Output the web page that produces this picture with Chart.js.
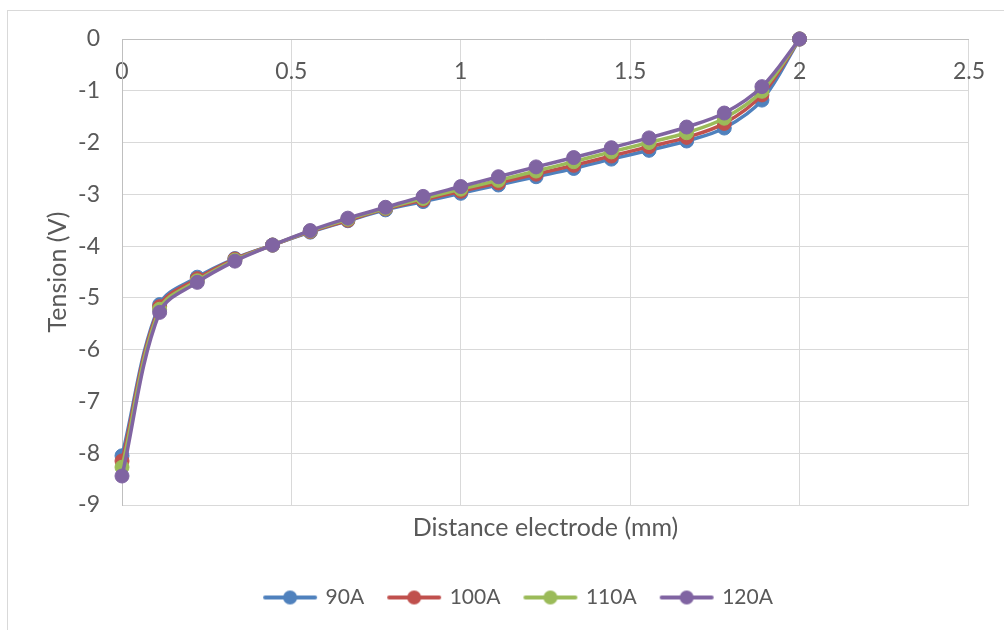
<!DOCTYPE html>
<html>
<head>
<meta charset="utf-8">
<script src="https://cdn.jsdelivr.net/npm/chart.js@4.4.0/dist/chart.umd.min.js"></script>
<style>
  html, body { margin: 0; padding: 0; background: #fff; }
  #wrap { position: relative; width: 1004px; height: 630px; overflow: hidden; }
  #frame { position: absolute; left: 7px; top: 10px; width: 1100px; height: 700px; border: 1px solid #d9d9d9; box-sizing: border-box; }
  canvas { position: absolute; left: 0; top: 0; }
</style>
</head>
<body>
<div id="wrap">
  <div id="frame"></div>
  <canvas id="c" width="1004" height="630"></canvas>
</div>
<script>
const distances = [0, 0.1111, 0.2222, 0.3333, 0.4444, 0.5556, 0.6667, 0.7778, 0.8889, 1.0, 1.1111, 1.2222, 1.3333, 1.4444, 1.5556, 1.6667, 1.7778, 1.8889, 2.0];
const seriesNames = ['90A', '100A', '110A', '120A'];
const tension90 = [-8.05, -5.13, -4.60, -4.24, -3.98, -3.73, -3.51, -3.30, -3.14, -2.98, -2.82, -2.66, -2.50, -2.32, -2.15, -1.97, -1.72, -1.18, 0];
const tension100 = [-8.15, -5.17, -4.63, -4.25, -3.98, -3.72, -3.50, -3.28, -3.11, -2.94, -2.78, -2.61, -2.44, -2.26, -2.08, -1.90, -1.63, -1.08, 0];
const tension110 = [-8.27, -5.22, -4.67, -4.27, -3.98, -3.71, -3.48, -3.27, -3.08, -2.90, -2.73, -2.55, -2.37, -2.18, -2.00, -1.81, -1.53, -1.01, 0];
const tension120 = [-8.44, -5.28, -4.70, -4.29, -3.98, -3.70, -3.46, -3.25, -3.04, -2.85, -2.66, -2.47, -2.29, -2.10, -1.91, -1.70, -1.43, -0.92, 0];
const xTicks = [0, 0.5, 1, 1.5, 2, 2.5];
const yTicks = [-9, -8, -7, -6, -5, -4, -3, -2, -1, 0];

const colors = ['#4f81bd', '#c0504d', '#9bbb59', '#8064a2'];
const allValues = [tension90, tension100, tension110, tension120];
const FONT = 'Lato';
const TEXT = '#595959';

function legendIcon(color) {
  const cv = document.createElement('canvas');
  cv.width = 56; cv.height = 16;
  const g = cv.getContext('2d');
  g.strokeStyle = color; g.lineWidth = 4; g.lineCap = 'round';
  g.beginPath(); g.moveTo(3, 8); g.lineTo(53, 8); g.stroke();
  g.fillStyle = color;
  g.beginPath(); g.arc(28, 8, 7, 0, Math.PI * 2); g.fill();
  return cv;
}

const datasets = seriesNames.map((name, i) => ({
  label: name,
  data: distances.map((d, k) => ({ x: d, y: allValues[i][k] })),
  borderColor: colors[i],
  backgroundColor: colors[i],
  pointBackgroundColor: colors[i],
  pointBorderColor: colors[i],
  borderWidth: 3.5,
  pointRadius: 7,
  pointBorderWidth: 1,
  tension: 0.35,
  clip: false,
  order: seriesNames.length - i
}));

const icons = colors.map(legendIcon);

const shiftLegend = {
  id: 'shiftLegend',
  afterLayout(chart) {
    if (chart.legend) { chart.legend.left += 33; chart.legend.right += 33; }
  }
};

new Chart(document.getElementById('c'), {
  type: 'line',
  data: { datasets },
  plugins: [shiftLegend],
  options: {
    responsive: false,
    animation: false,
    devicePixelRatio: 1,
    layout: { padding: { left: 0, right: 32, top: 39, bottom: 12 } },
    plugins: {
      tooltip: { enabled: false },
      title: { display: false },
      legend: {
        position: 'bottom',
        labels: {
          font: { family: FONT, size: 21 },
          color: TEXT,
          usePointStyle: true,
          pointStyleWidth: 50,
          padding: 25,
          generateLabels: (chart) => chart.data.datasets.map((ds, i) => ({
            text: ds.label,
            fillStyle: ds.borderColor,
            strokeStyle: ds.borderColor,
            fontColor: TEXT,
            lineWidth: 0,
            pointStyle: icons[i],
            hidden: false,
            datasetIndex: i
          }))
        }
      }
    },
    scales: {
      x: {
        type: 'linear',
        position: 'bottom',
        min: 0, max: 2.5,
        afterBuildTicks: (s) => { s.ticks = xTicks.map(v => ({ value: v })); },
        ticks: { display: false },
        grid: { color: '#d9d9d9', lineWidth: 1, drawTicks: false },
        border: { display: false },
        title: {
          display: true,
          text: 'Distance electrode (mm)',
          color: TEXT,
          font: { family: FONT, size: 25 },
          padding: { top: 0, bottom: 19 }
        },
        afterFit: (s) => { s.height = 57; }
      },
      x2: {
        type: 'linear',
        position: { y: 0 },
        min: 0, max: 2.5,
        afterBuildTicks: (s) => { s.ticks = xTicks.map(v => ({ value: v })); },
        ticks: {
          color: TEXT, font: { family: FONT, size: 23 }, padding: 19, maxRotation: 0,
          callback: (v) => String(v)
        },
        grid: { display: false, drawTicks: false },
        border: { display: true, color: '#bfbfbf', width: 1 }
      },
      y: {
        type: 'linear',
        position: 'left',
        min: -9, max: 0,
        afterBuildTicks: (s) => { s.ticks = yTicks.map(v => ({ value: v })); },
        ticks: { color: TEXT, font: { family: FONT, size: 23 }, padding: 22, callback: (v) => String(v) },
        grid: { color: '#d9d9d9', lineWidth: 1, drawTicks: false },
        border: { display: true, color: '#bfbfbf', width: 1 },
        title: {
          display: true,
          text: 'Tension (V)',
          color: TEXT,
          font: { family: FONT, size: 25 },
          padding: { top: 43, bottom: 0 }
        },
        afterFit: (s) => { s.width = 122; }
      }
    }
  }
});
</script>
</body>
</html>
